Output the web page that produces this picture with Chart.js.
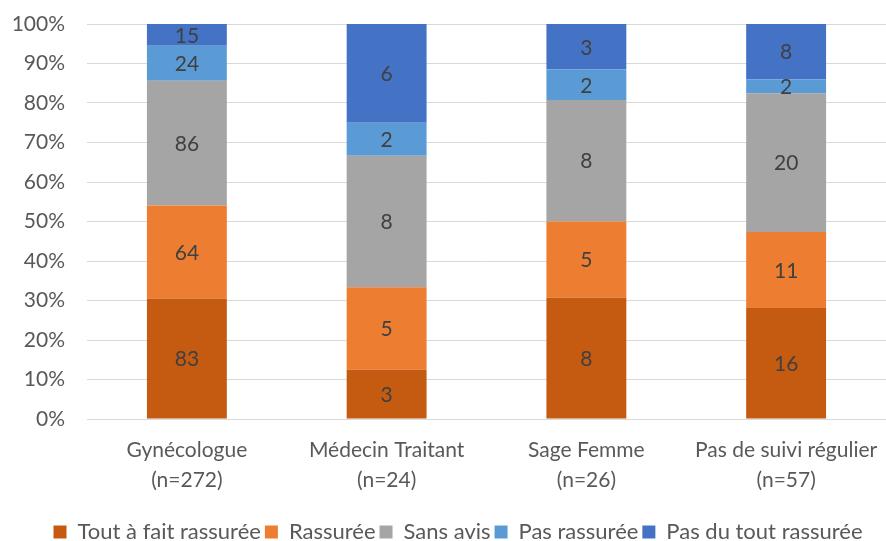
<!DOCTYPE html>
<html>
<head>
<meta charset="utf-8">
<script src="https://cdn.jsdelivr.net/npm/chart.js@4"></script>
<style>
  html, body { margin: 0; padding: 0; background: #fff; }
  #wrap { width: 886px; height: 541px; }
</style>
</head>
<body>
<div id="wrap"><canvas id="chart" width="886" height="541"></canvas></div>
<script>
// Chart data
const categories = [['Gynécologue', '(n=272)'], ['Médecin Traitant', '(n=24)'], ['Sage Femme', '(n=26)'], ['Pas de suivi régulier', '(n=57)']];
const seriesNames = ['Tout à fait rassurée', 'Rassurée', 'Sans avis', 'Pas rassurée', 'Pas du tout rassurée'];
const toutAFait = [83, 3, 8, 16];
const rassuree = [64, 5, 5, 11];
const sansAvis = [86, 8, 8, 20];
const pasRassuree = [24, 2, 2, 2];
const pasDuTout = [15, 6, 3, 8];
const yTicks = [0, 10, 20, 30, 40, 50, 60, 70, 80, 90, 100];

const colors = ['#C55A11', '#ED7D31', '#A5A5A5', '#5B9BD5', '#4472C4'];
const counts = [toutAFait, rassuree, sansAvis, pasRassuree, pasDuTout];
const totals = categories.map((c, i) => counts.reduce((s, arr) => s + arr[i], 0));

const FONT = 'Lato, "Open Sans", sans-serif';

// Draws the raw counts in the middle of each segment
const countLabels = {
  id: 'countLabels',
  afterDatasetsDraw(chart) {
    const ctx = chart.ctx;
    ctx.save();
    ctx.font = `21px ${FONT}`;
    ctx.fillStyle = '#404040';
    ctx.textAlign = 'center';
    ctx.textBaseline = 'middle';
    chart.data.datasets.forEach((ds, di) => {
      chart.getDatasetMeta(di).data.forEach((bar, i) => {
        const mid = (bar.y + bar.base) / 2;
        ctx.fillText(String(counts[di][i]), bar.x, mid + 1);
      });
    });
    ctx.restore();
  }
};

// Nudge the legend lower and a bit right, like the original
const legendShift = {
  id: 'legendShift',
  afterLayout(chart) {
    const lg = chart.legend;
    if (!lg) return;
    lg.top += 12; lg.bottom += 12;
    lg.left += 15; lg.right += 15;
  }
};

new Chart('chart', {
  type: 'bar',
  data: {
    labels: categories,
    datasets: seriesNames.map((name, di) => ({
      label: name,
      data: counts[di].map((v, i) => v / totals[i] * 100),
      backgroundColor: colors[di],
      borderWidth: 0,
      barPercentage: 0.4,
      categoryPercentage: 1
    }))
  },
  options: {
    responsive: false,
    animation: false,
    layout: { padding: { top: 24, right: 0, left: 0, bottom: 0 } },
    plugins: {
      tooltip: { enabled: false },
      legend: {
        position: 'bottom',
        labels: {
          color: '#595959',
          font: { family: FONT, size: 22 },
          boxWidth: 13,
          boxHeight: 13,
          padding: 4
        }
      }
    },
    scales: {
      x: {
        stacked: true,
        grid: { display: false, drawTicks: false },
        border: { color: '#D9D9D9', width: 1 },
        afterFit: s => { s.paddingLeft = 0; s.paddingRight = 0; s.height = 86; },
        ticks: {
          color: '#595959',
          font: { family: FONT, size: 21, lineHeight: 1.45 },
          padding: 16,
          maxRotation: 0
        }
      },
      y: {
        stacked: true,
        min: 0,
        max: 100,
        afterBuildTicks: s => { s.ticks = yTicks.map(v => ({ value: v })); },
        afterFit: s => { s.width = 87; s.paddingTop = 0; s.paddingBottom = 0; },
        grid: { color: '#D9D9D9', drawTicks: false },
        border: { display: false },
        ticks: {
          color: '#595959',
          font: { family: FONT, size: 21 },
          padding: 22,
          callback: v => v + '%'
        }
      }
    }
  },
  plugins: [countLabels, legendShift]
});
</script>
</body>
</html>
